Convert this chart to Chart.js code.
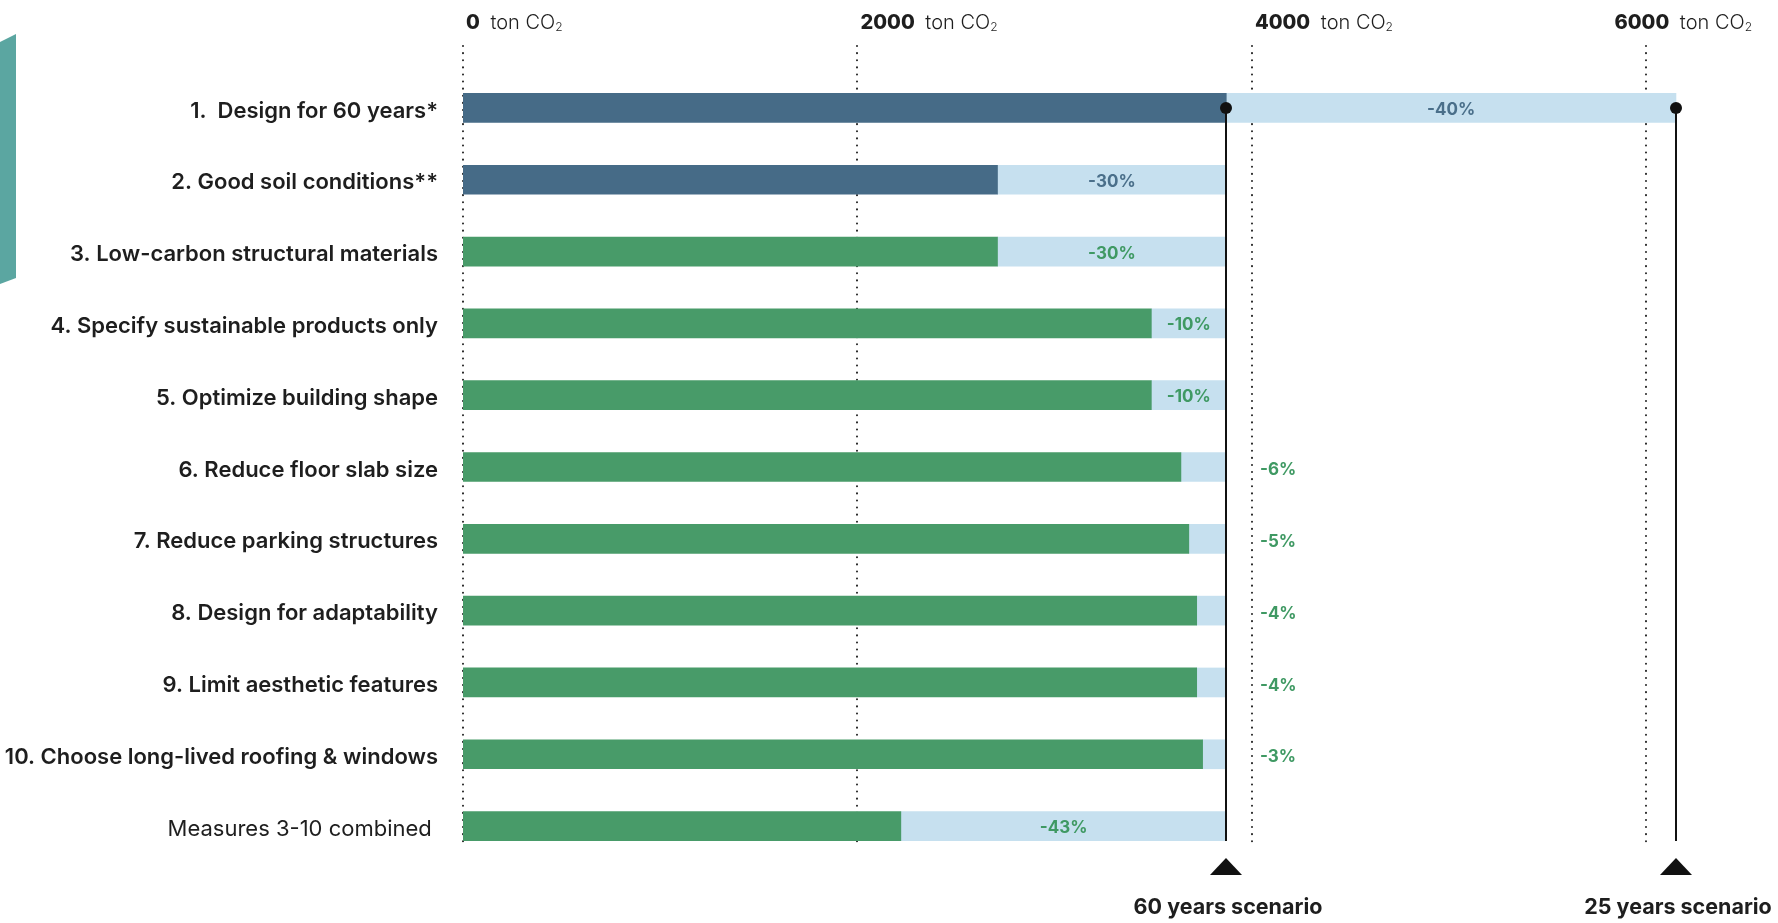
<!DOCTYPE html>
<html>
<head>
<meta charset="utf-8">
<script src="https://cdn.jsdelivr.net/npm/chart.js@4/dist/chart.umd.min.js"></script>
<style>
  html, body { margin: 0; padding: 0; background: #fff; }
  canvas { display: block; }
</style>
</head>
<body>
<canvas id="chart-embodied-carbon" width="1778" height="923"></canvas>
<script>
// data
const measureLabels = [
    "1.  Design for 60 years*",
    "2. Good soil conditions**",
    "3. Low-carbon structural materials",
    "4. Specify sustainable products only",
    "5. Optimize building shape",
    "6. Reduce floor slab size",
    "7. Reduce parking structures",
    "8. Design for adaptability",
    "9. Limit aesthetic features",
    "10. Choose long-lived roofing & windows",
    "Measures 3-10 combined",
];
// ton CO2 after the measure
const emissionsAfter = [3870, 2710, 2710, 3490, 3490, 3640, 3680, 3720, 3720, 3750, 2220];
// ton CO2 of the scenario the measure is compared to
const emissionsBefore = [6150, 3870, 3870, 3870, 3870, 3870, 3870, 3870, 3870, 3870, 3870];
const reductionLabels = ["-40%", "-30%", "-30%", "-10%", "-10%", "-6%", "-5%", "-4%", "-4%", "-3%", "-43%"];
const axisTicks = [0, 2000, 4000, 6000];
const scenarioValues = [3870, 6150];
const scenarioLabels = ["60 years scenario", "25 years scenario"];

const FONT = "Inter, 'Noto Sans', sans-serif";
const BLUE = "#466b87";
const GREEN = "#489b69";
const LIGHT = "#c6e0ef";

// light segment = from emission after to emission before
const savedRanges = emissionsAfter.map((v, i) => [v, emissionsBefore[i]]);

// dotted grid, top tick labels, % labels, scenario markers
const gridPlugin = {
    id: "dottedGrid",
    beforeDatasetsDraw(chart) {
        const { ctx } = chart;
        const xs = chart.scales.x;
        ctx.save();
        // teal side tab
        ctx.fillStyle = "#5ba6a1";
        ctx.beginPath();
        ctx.moveTo(0, 42);
        ctx.lineTo(16, 34);
        ctx.lineTo(16, 278);
        ctx.lineTo(0, 284);
        ctx.closePath();
        ctx.fill();

        ctx.strokeStyle = "#222";
        ctx.lineWidth = 2;
        ctx.lineCap = "round";
        ctx.setLineDash([0.1, 7]);
        axisTicks.forEach((v) => {
            const x = Math.round(xs.getPixelForValue(v));
            ctx.beginPath();
            ctx.moveTo(x, 46);
            ctx.lineTo(x, 845);
            ctx.stroke();
        });
        ctx.setLineDash([]);

        ctx.textBaseline = "alphabetic";
        ctx.fillStyle = "#1e1e1e";
        axisTicks.forEach((v) => {
            const num = String(v);
            ctx.font = "800 20px " + FONT;
            const w1 = ctx.measureText(num).width;
            ctx.font = "300 20px " + FONT;
            const w2 = ctx.measureText(" ton CO").width;
            ctx.font = "300 12px " + FONT;
            const w3 = ctx.measureText("2").width;
            let x = xs.getPixelForValue(v) + 3;
            const total = w1 + 5 + w2 + w3;
            if (x + total > chart.width - 24) x = chart.width - 26 - total;
            ctx.font = "800 20px " + FONT;
            ctx.fillText(num, x, 29);
            ctx.font = "300 20px " + FONT;
            ctx.fillText(" ton CO", x + w1 + 5, 29);
            ctx.font = "300 12px " + FONT;
            ctx.fillText("2", x + w1 + 5 + w2, 31);
        });
        ctx.restore();
    },
    afterDatasetsDraw(chart) {
        const { ctx } = chart;
        const xs = chart.scales.x;
        const ys = chart.scales.y;
        const meta = chart.getDatasetMeta(1);
        ctx.save();
        // reduction labels
        ctx.font = "700 17px " + FONT;
        ctx.textBaseline = "middle";
        meta.data.forEach((bar, i) => {
            ctx.fillStyle = i < 2 ? "#4a6f8a" : "#3f9963";
            const w = Math.abs(bar.x - bar.base);
            if (w > 60) {
                ctx.textAlign = "center";
                ctx.fillText(reductionLabels[i], (bar.x + bar.base) / 2, bar.y + 2);
            } else {
                ctx.textAlign = "left";
                ctx.fillText(reductionLabels[i], xs.getPixelForValue(4000) + 8, bar.y + 3);
            }
        });

        // scenario markers
        const yTop = ys.getPixelForValue(0);
        ctx.strokeStyle = "#111";
        ctx.fillStyle = "#111";
        ctx.lineWidth = 2;
        scenarioValues.forEach((v, i) => {
            const x = Math.round(xs.getPixelForValue(v));
            ctx.beginPath();
            ctx.moveTo(x, yTop);
            ctx.lineTo(x, 841);
            ctx.stroke();
            ctx.beginPath();
            ctx.arc(x, yTop, 6, 0, Math.PI * 2);
            ctx.fill();
            ctx.beginPath();
            ctx.moveTo(x - 16, 875);
            ctx.lineTo(x + 16, 875);
            ctx.lineTo(x, 858);
            ctx.closePath();
            ctx.fill();
            ctx.font = "700 21.5px " + FONT;
            ctx.textAlign = "center";
            ctx.textBaseline = "middle";
            ctx.fillStyle = "#1e1e1e";
            ctx.fillText(scenarioLabels[i], x + 2, 908);
            ctx.fillStyle = "#111";
        });
        ctx.restore();
    },
};

// config
const configEmbodiedCarbon = {
    type: "bar",
    data: {
        labels: measureLabels,
        datasets: [
            {
                label: "After measure",
                data: emissionsAfter,
                backgroundColor: emissionsAfter.map((v, i) => (i < 2 ? BLUE : GREEN)),
                barThickness: 29,
                grouped: false,
                order: 1,
            },
            {
                label: "Reduction",
                data: savedRanges,
                backgroundColor: LIGHT,
                barThickness: 29,
                grouped: false,
                order: 2,
            },
        ],
    },
    options: {
        indexAxis: "y",
        responsive: false,
        animation: false,
        layout: {
            padding: { top: 72, bottom: 61, left: 0, right: 33 },
        },
        plugins: {
            legend: { display: false },
            tooltip: { enabled: false },
        },
        scales: {
            x: {
                display: false,
                min: 0,
                max: 6500,
            },
            y: {
                border: { display: false },
                grid: { display: false, drawTicks: false },
                ticks: {
                    padding: 25,
                    labelOffset: 3,
                    color: "#1e1e1e",
                    // last row sits a bit further left in the original
                    callback: function (value, index) {
                        const label = this.getLabelForValue(value);
                        return index === 10 ? label + " " : label;
                    },
                    font: (c) => ({
                        family: FONT,
                        size: 22,
                        weight: c.index === 10 ? 400 : 600,
                    }),
                },
                afterFit(scale) {
                    scale.width = 463;
                },
            },
        },
    },
    plugins: [gridPlugin],
};

// render
const ctx = document.getElementById("chart-embodied-carbon");
new Chart(ctx, configEmbodiedCarbon);
</script>
</body>
</html>
